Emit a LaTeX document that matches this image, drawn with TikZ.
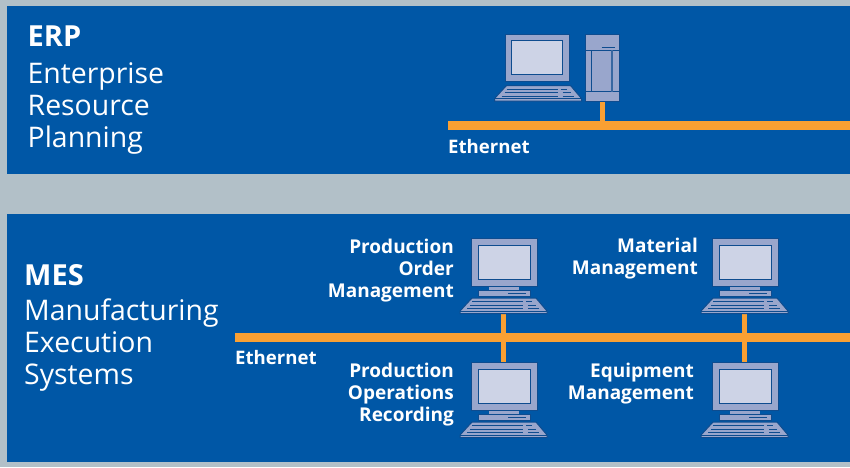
\documentclass[tikz,border=0pt]{standalone}
\usepackage{fontspec}
\setmainfont{Open Sans}
\definecolor{bgc}{HTML}{B2C0C8}
\definecolor{panelc}{HTML}{0057A6}
\definecolor{orangec}{HTML}{F9A033}
\definecolor{devc}{HTML}{99A6CC}
\definecolor{screenc}{HTML}{CDD3E6}
\definecolor{edgec}{HTML}{0E4C8F}
\tikzset{
  panel/.style={fill=panelc,draw=none},
  dev/.style={fill=devc,draw=edgec,line width=1pt},
  scr/.style={fill=screenc,draw=edgec,line width=1pt},
  devline/.style={draw=edgec,line width=0.8pt},
  bus/.style={fill=orangec,draw=none,inner sep=0pt,minimum height=9pt,anchor=west},
  link/.style={draw=orangec,line width=5pt},
  big/.style={font=\fontsize{28.4}{32}\selectfont\color{white},align=left,anchor=north west,inner sep=0pt},
  bigb/.style={font=\fontsize{29}{32}\selectfont\bfseries\color{white},anchor=north west,inner sep=0pt},
  lab/.style={font=\fontsize{19}{22}\selectfont\bfseries\color{white},inner sep=0pt},
  labs/.style={font=\fontsize{18.6}{22}\selectfont\bfseries\color{white},inner sep=0pt},
  keyb/.pic={
    \fill[dev] (12,0) -- (76,0) -- (87,13) -- (87,15.5) -- (0,15.5) -- (0,13) -- cycle;
    \draw[devline] (12,3.5) -- (63,3.5) (10,7) -- (63,7) (7,10.5) -- (63,10.5) (0,13) -- (87,13);
    \draw[devline] (66,3.5) -- (72,3.5) (68,7) -- (76,7) (68,10.5) -- (79,10.5);
  },
  pcunit/.pic={
    \fill[dev] (0,0) rectangle (66,48);
    \fill[scr] (7,7) rectangle (59.5,41);
    \fill[devc] (18,49) rectangle (48,52);
    \fill[dev] (7,52.5) rectangle (59,58);
    \draw[devline] (37,55) -- (55,55);
    \pic at (-11,60) {keyb};
  },
  pc/.style={minimum width=87pt,minimum height=76pt,inner sep=0pt,draw=none,anchor=north}
}
\begin{document}
\begin{tikzpicture}[x=1pt,y=-1pt]
\useasboundingbox (0,0) rectangle (850,467);
\fill[bgc] (0,0) rectangle (850,467);
\fill[panel] (7,6) rectangle (850,174);
\fill[panel] (7,214) rectangle (850,462);

% ERP
\node[bigb] (erp) at (27.5,26) {ERP};
\node[big] (erpt) at (27.5,62) {Enterprise\\Resource\\Planning};
\node[bus,minimum width=402pt] (bus1) at (448,125.5) {};
\node[labs,anchor=west] (eth1) at (448,147) {Ethernet};
\node[inner sep=0pt,minimum width=34pt,minimum height=67.5pt,anchor=north west] (tower) at (585,34) {};
\draw[link] (tower.south) -- (tower.south |- bus1.north);
% desktop monitor
\fill[dev] (505,34) rectangle (569,81);
\fill[scr] (511.5,40.5) rectangle (562.5,74);
\pic at (494.5,85.5) {keyb};
% tower
\fill[dev] (tower.north west) rectangle (tower.south east);
\draw[devline] (585,50) -- (619,50) (585,91.5) -- (619,91.5) (591.5,50) -- (591.5,91.5);
\draw[devline] (601.5,47.5) -- (615,47.5);
\draw[edgec!70!devc,line width=2pt] (612,50) -- (612,91.5);

% MES
\node[bigb] (mes) at (24,264) {MES};
\node[big] (mest) at (24,299) {Manufacturing\\Execution\\Systems};
\node[bus,minimum width=615pt] (bus2) at (235,337.5) {};
\node[labs,anchor=west] (eth2) at (235,358) {Ethernet};

\node[pc] (pca) at (503.5,238) {};
\node[pc] (pcb) at (503.5,362) {};
\node[pc] (pcc) at (744.5,238) {};
\node[pc] (pcd) at (744.5,362) {};
\draw[link] (pca.south) -- (pcb.north);
\draw[link] (pcc.south) -- (pcd.north);
\pic at (471,238) {pcunit};
\pic at (471,362) {pcunit};
\pic at (712,238) {pcunit};
\pic at (712,362) {pcunit};

\node[lab,align=right,anchor=east] (la) at (454,271) {Production\\Order\\Management};
\node[lab,align=right,anchor=east] (lb) at (454,395) {Production\\Operations\\Recording};
\node[lab,align=right,anchor=east] (lc) at (698,259) {Material\\Management};
\node[lab,align=right,anchor=east] (ld) at (694,383.5) {Equipment\\Management};
\end{tikzpicture}
\end{document}
